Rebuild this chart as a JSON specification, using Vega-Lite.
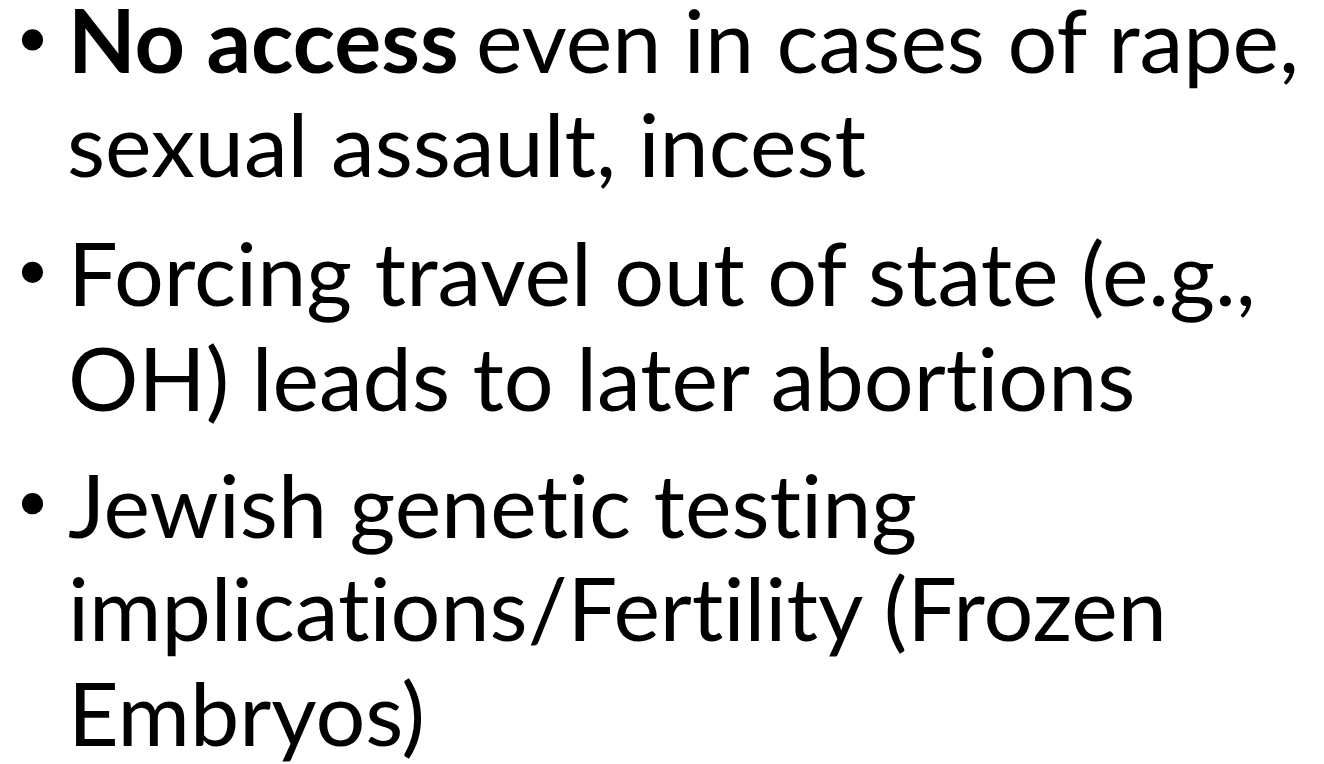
{
  "$schema": "https://vega.github.io/schema/vega-lite/v6.json",
  "width": 1324,
  "height": 764,
  "autosize": {"type": "fit", "contains": "padding"},
  "padding": 0,
  "background": "white",
  "config": {"view": {"stroke": null}},
  "datasets": {
    "lines": [
      {"text": "No access", "col": 68, "row": 73, "weight": "bold"},
      {"text": "even in cases of rape,", "col": 476, "row": 73, "weight": "normal"},
      {"text": "sexual assault, incest", "col": 67, "row": 177, "weight": "normal"},
      {"text": "Forcing travel out of state (e.g.,", "col": 68, "row": 307, "weight": "normal"},
      {"text": "OH) leads to later abort\u200cions", "col": 68, "row": 412, "weight": "normal"},
      {"text": "Jewish genet\u200cic test\u200cing", "col": 68, "row": 539, "weight": "normal"},
      {"text": "implicat\u200cions/Fert\u200cility (Frozen", "col": 68, "row": 643, "weight": "normal"},
      {"text": "Embryos)", "col": 68, "row": 748, "weight": "normal"}
    ],
    "bullets": [
      {"col": 32.5, "row": 40},
      {"col": 32.5, "row": 273},
      {"col": 32.5, "row": 505}
    ]
  },
  "layer": [
    {
      "data": {"name": "bullets"},
      "mark": {"type": "point", "shape": "circle", "filled": true, "color": "black", "opacity": 1, "size": 450},
      "encoding": {
        "x": {"field": "col", "type": "quantitative", "scale": {"domain": [0, 1324]}, "axis": null},
        "y": {"field": "row", "type": "quantitative", "scale": {"domain": [764, 0]}, "axis": null}
      }
    },
    {
      "data": {"name": "lines"},
      "transform": [{"filter": "datum.weight == 'bold'"}],
      "mark": {"type": "text", "font": "Lato", "fontSize": 88, "fontWeight": "bold", "align": "left", "baseline": "alphabetic", "color": "black"},
      "encoding": {
        "x": {"field": "col", "type": "quantitative", "scale": {"domain": [0, 1324]}, "axis": null},
        "y": {"field": "row", "type": "quantitative", "scale": {"domain": [764, 0]}, "axis": null},
        "text": {"field": "text"}
      }
    },
    {
      "data": {"name": "lines"},
      "transform": [{"filter": "datum.weight == 'normal'"}],
      "mark": {"type": "text", "font": "Lato", "fontSize": 88, "align": "left", "baseline": "alphabetic", "color": "black"},
      "encoding": {
        "x": {"field": "col", "type": "quantitative", "scale": {"domain": [0, 1324]}, "axis": null},
        "y": {"field": "row", "type": "quantitative", "scale": {"domain": [764, 0]}, "axis": null},
        "text": {"field": "text"}
      }
    }
  ]
}
